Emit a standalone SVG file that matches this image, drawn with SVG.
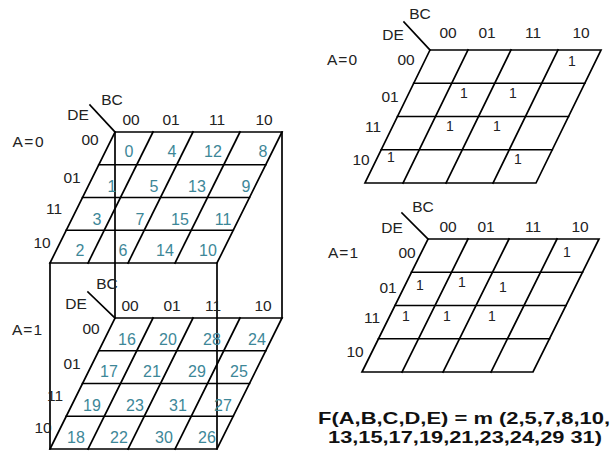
<svg xmlns="http://www.w3.org/2000/svg" width="613" height="453" viewBox="0 0 613 453">
<style>
.g{fill:none;stroke:#000;stroke-width:1.7;stroke-linecap:square}
.l{font-family:"Liberation Sans",Arial,sans-serif;font-size:15.5px;fill:#222;text-anchor:middle}
.n{font-family:"Liberation Sans",Arial,sans-serif;font-size:16px;fill:#3d8798;text-anchor:middle}
.o{font-family:"Liberation Sans",Arial,sans-serif;font-size:14px;fill:#222;text-anchor:middle}
.f{font-family:"Liberation Sans",Arial,sans-serif;font-size:17px;font-weight:bold;fill:#111;text-anchor:middle}
</style>
<rect width="613" height="453" fill="#fff"/>
<g id="connectors" class="g">
<line x1="115" y1="132" x2="115" y2="318"/>
<line x1="282" y1="132" x2="282" y2="318"/>
<line x1="50" y1="263" x2="50" y2="449"/>
<line x1="217" y1="263" x2="217" y2="449"/>
</g>
<g id="map-left-a0">
<g class="g">
<polygon points="115,132 282,132 217,263 50,263"/>
<line x1="98.75" y1="164.75" x2="265.75" y2="164.75"/>
<line x1="82.5" y1="197.5" x2="249.5" y2="197.5"/>
<line x1="66.25" y1="230.25" x2="233.25" y2="230.25"/>
<line x1="153" y1="132" x2="88" y2="263"/>
<line x1="193" y1="132" x2="128" y2="263"/>
<line x1="240" y1="132" x2="175" y2="263"/>
<line x1="90" y1="105" x2="115" y2="132"/>
</g>
<text class="l" x="112" y="105">BC</text>
<text class="l" x="78" y="120">DE</text>
<text class="l" x="131" y="125">00</text>
<text class="l" x="171" y="125">01</text>
<text class="l" x="217" y="125">11</text>
<text class="l" x="264" y="125">10</text>
<text class="l" x="28" y="147" textLength="31" lengthAdjust="spacing">A=0</text>
<text class="l" x="90" y="145">00</text>
<text class="l" x="72" y="183">01</text>
<text class="l" x="54" y="214">11</text>
<text class="l" x="42" y="248">10</text>
<text class="n" x="129" y="157">0</text>
<text class="n" x="172" y="157">4</text>
<text class="n" x="213" y="157">12</text>
<text class="n" x="263" y="157">8</text>
<text class="n" x="112" y="192">1</text>
<text class="n" x="154" y="192">5</text>
<text class="n" x="197" y="192">13</text>
<text class="n" x="246" y="192">9</text>
<text class="n" x="97" y="225">3</text>
<text class="n" x="140" y="225">7</text>
<text class="n" x="180" y="225">15</text>
<text class="n" x="223" y="225">11</text>
<text class="n" x="80" y="256">2</text>
<text class="n" x="123" y="256">6</text>
<text class="n" x="165" y="256">14</text>
<text class="n" x="208" y="256">10</text>
</g>
<g id="map-left-a1">
<g class="g">
<polygon points="115,318 282,318 217,449 50,449"/>
<line x1="98.75" y1="350.75" x2="265.75" y2="350.75"/>
<line x1="82.5" y1="383.5" x2="249.5" y2="383.5"/>
<line x1="66.25" y1="416.25" x2="233.25" y2="416.25"/>
<line x1="153" y1="318" x2="88" y2="449"/>
<line x1="193" y1="318" x2="128" y2="449"/>
<line x1="240" y1="318" x2="175" y2="449"/>
<line x1="88" y1="292" x2="115" y2="318"/>
</g>
<text class="l" x="107" y="289">BC</text>
<text class="l" x="76" y="309">DE</text>
<text class="l" x="130" y="311">00</text>
<text class="l" x="172" y="311">01</text>
<text class="l" x="213" y="311">11</text>
<text class="l" x="263" y="311">10</text>
<text class="l" x="27" y="335" textLength="30" lengthAdjust="spacing">A=1</text>
<text class="l" x="91" y="334">00</text>
<text class="l" x="72" y="369">01</text>
<text class="l" x="55" y="401">11</text>
<text class="l" x="43" y="433">10</text>
<text class="n" x="127" y="345">16</text>
<text class="n" x="168" y="345">20</text>
<text class="n" x="212" y="345">28</text>
<text class="n" x="257" y="345">24</text>
<text class="n" x="109" y="377">17</text>
<text class="n" x="152" y="377">21</text>
<text class="n" x="197" y="377">29</text>
<text class="n" x="239" y="377">25</text>
<text class="n" x="92" y="411">19</text>
<text class="n" x="135" y="411">23</text>
<text class="n" x="178" y="411">31</text>
<text class="n" x="223" y="411">27</text>
<text class="n" x="76" y="443">18</text>
<text class="n" x="119" y="443">22</text>
<text class="n" x="164" y="443">30</text>
<text class="n" x="207" y="443">26</text>
</g>
<g id="map-right-a0">
<g class="g">
<polygon points="430,50 601,50 536,183 365,183"/>
<line x1="413.75" y1="83.25" x2="584.75" y2="83.25"/>
<line x1="397.5" y1="116.5" x2="568.5" y2="116.5"/>
<line x1="381.25" y1="149.75" x2="552.25" y2="149.75"/>
<line x1="468" y1="50" x2="403" y2="183"/>
<line x1="511" y1="50" x2="446" y2="183"/>
<line x1="558" y1="50" x2="493" y2="183"/>
<line x1="404" y1="22" x2="430" y2="50"/>
</g>
<text class="l" x="420" y="19">BC</text>
<text class="l" x="393" y="40">DE</text>
<text class="l" x="448" y="38">00</text>
<text class="l" x="487" y="38">01</text>
<text class="l" x="533" y="38">11</text>
<text class="l" x="581" y="38">10</text>
<text class="l" x="342" y="65" textLength="30" lengthAdjust="spacing">A=0</text>
<text class="l" x="406" y="65">00</text>
<text class="l" x="390" y="102">01</text>
<text class="l" x="373" y="132">11</text>
<text class="l" x="361" y="165">10</text>
<text class="o" x="572" y="66">1</text>
<text class="o" x="464" y="98">1</text>
<text class="o" x="513" y="98">1</text>
<text class="o" x="450" y="131">1</text>
<text class="o" x="497" y="131">1</text>
<text class="o" x="391" y="162">1</text>
<text class="o" x="518" y="164">1</text>
</g>
<g id="map-right-a1">
<g class="g">
<polygon points="428,239 599,239 533,372 362,372"/>
<line x1="411.5" y1="272.25" x2="582.5" y2="272.25"/>
<line x1="395" y1="305.5" x2="566" y2="305.5"/>
<line x1="378.5" y1="338.75" x2="549.5" y2="338.75"/>
<line x1="468" y1="239" x2="402" y2="372"/>
<line x1="509" y1="239" x2="443" y2="372"/>
<line x1="557" y1="239" x2="491" y2="372"/>
<line x1="402" y1="213" x2="428" y2="239"/>
</g>
<text class="l" x="423" y="212">BC</text>
<text class="l" x="392" y="233">DE</text>
<text class="l" x="448" y="232">00</text>
<text class="l" x="486" y="232">01</text>
<text class="l" x="533" y="232">11</text>
<text class="l" x="580" y="232">10</text>
<text class="l" x="343" y="258" textLength="30" lengthAdjust="spacing">A=1</text>
<text class="l" x="407" y="258">00</text>
<text class="l" x="388" y="293">01</text>
<text class="l" x="372" y="323">11</text>
<text class="l" x="355" y="357">10</text>
<text class="o" x="567" y="257">1</text>
<text class="o" x="420" y="290">1</text>
<text class="o" x="462" y="287">1</text>
<text class="o" x="503" y="292">1</text>
<text class="o" x="406" y="321">1</text>
<text class="o" x="447" y="321">1</text>
<text class="o" x="492" y="321">1</text>
</g>
<g id="formula">
<text class="f" x="464" y="424" textLength="292" lengthAdjust="spacingAndGlyphs">F(A,B,C,D,E) = m (2,5,7,8,10,</text>
<text class="f" x="465" y="443" textLength="274" lengthAdjust="spacingAndGlyphs">13,15,17,19,21,23,24,29 31)</text>
</g>
</svg>
